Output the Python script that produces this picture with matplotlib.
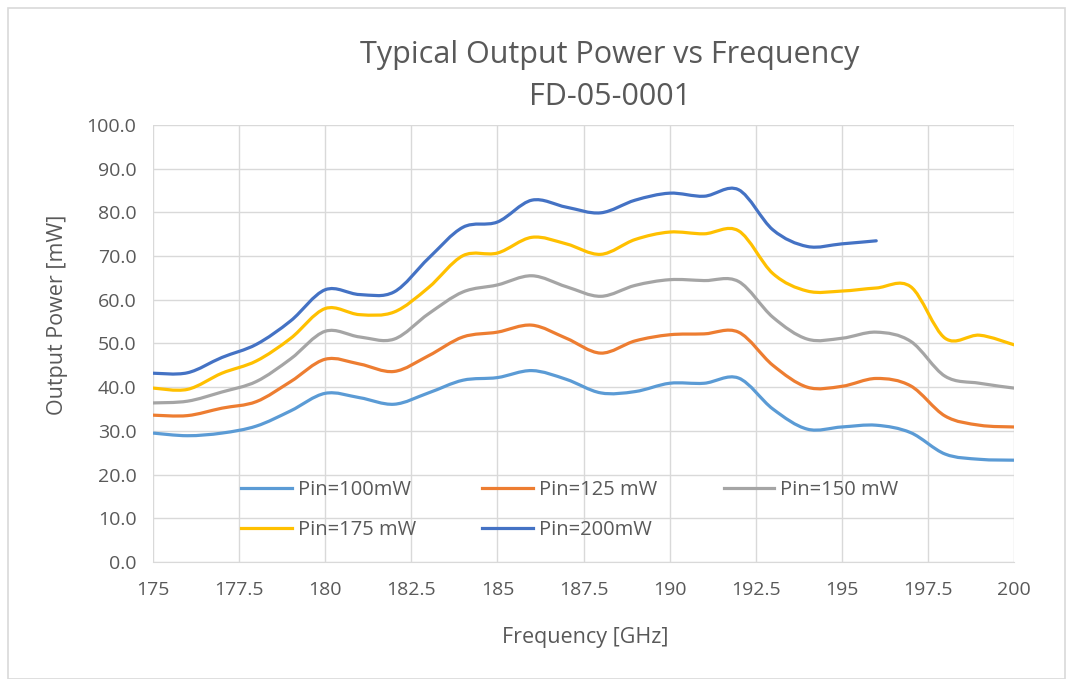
import matplotlib
matplotlib.use('Agg')

import numpy as np
import matplotlib.pyplot as plt
from matplotlib.path import Path
from matplotlib.patches import PathPatch, Rectangle
from matplotlib.lines import Line2D

# ─── Data ───
freq = [175, 176, 177, 178, 179, 180, 181, 182, 183, 184, 185, 186, 187,
        188, 189, 190, 191, 192, 193, 194, 195, 196, 197, 198, 199, 200]

pin_100 = [29.5, 28.9, 29.5, 31.1, 34.6, 38.6, 37.6, 36.1, 38.7, 41.6, 42.2, 43.8, 41.8,
           38.7, 39.0, 40.9, 40.9, 42.1, 35.0, 30.4, 30.9, 31.3, 29.6, 24.7, 23.5, 23.3]
pin_125 = [33.6, 33.5, 35.2, 36.7, 41.3, 46.4, 45.3, 43.6, 47.2, 51.5, 52.6, 54.2, 51.2,
           47.8, 50.6, 52.0, 52.2, 52.6, 45.0, 40.0, 40.2, 42.0, 40.3, 33.4, 31.3, 30.9]
pin_150 = [36.4, 36.8, 38.9, 41.3, 46.5, 52.8, 51.5, 51.0, 56.8, 61.8, 63.4, 65.5, 63.0,
           60.8, 63.3, 64.6, 64.4, 64.2, 56.0, 51.0, 51.2, 52.6, 50.5, 42.5, 40.9, 39.8]
pin_175 = [39.8, 39.5, 43.2, 46.0, 51.2, 58.0, 56.6, 57.2, 62.8, 70.1, 70.7, 74.3, 72.8,
           70.4, 73.8, 75.5, 75.1, 75.8, 66.0, 62.0, 62.0, 62.7, 63.0, 51.2, 51.9, 49.7]
pin_200 = [43.2, 43.3, 46.8, 49.8, 55.2, 62.3, 61.2, 61.8, 69.5, 76.6, 77.8, 82.8, 81.2,
           79.9, 82.8, 84.4, 83.7, 85.2, 76.0, 72.2, 72.8, 73.5]

series = [
    ('Pin=100mW', pin_100, '#5B9BD5'),
    ('Pin=125 mW', pin_125, '#ED7D31'),
    ('Pin=150 mW', pin_150, '#A5A5A5'),
    ('Pin=175 mW', pin_175, '#FFC000'),
    ('Pin=200mW', pin_200, '#4472C4'),
]

x_ticks = [175, 177.5, 180, 182.5, 185, 187.5, 190, 192.5, 195, 197.5, 200]
x_tick_labels = ['175', '177.5', '180', '182.5', '185', '187.5', '190', '192.5', '195', '197.5', '200']
y_ticks = [0, 10, 20, 30, 40, 50, 60, 70, 80, 90, 100]

TXT = '#595959'
plt.rcParams['font.family'] = ['Open Sans', 'DejaVu Sans']


def smooth_path(xs, ys):
    # Excel-style smoothed line: cubic Bezier segments (Catmull-Rom tangents)
    pts = np.column_stack([xs, ys]).astype(float)
    n = len(pts)
    verts = [pts[0]]
    codes = [Path.MOVETO]
    for i in range(n - 1):
        p0 = pts[i - 1] if i > 0 else pts[i]
        p1, p2 = pts[i], pts[i + 1]
        p3 = pts[i + 2] if i + 2 < n else pts[i + 1]
        c1 = p1 + (p2 - p0) / 6.0
        c2 = p2 - (p3 - p1) / 6.0
        verts += [c1, c2, p2]
        codes += [Path.CURVE4] * 3
    return Path(verts, codes)


W, H = 1066, 679
fig = plt.figure(figsize=(W / 100, H / 100), dpi=100)
ax = fig.add_axes([153 / W, 1 - 562 / H, 861 / W, 437 / H])

handles = []
for label, vals, color in series:
    xs = freq[:len(vals)]
    patch = PathPatch(smooth_path(xs, vals), facecolor='none', edgecolor=color,
                      linewidth=2.3, capstyle='round', joinstyle='round', zorder=3)
    ax.add_patch(patch)
    handles.append(Line2D([], [], color=color, linewidth=2.3, label=label))

ax.set_xlim(175, 200)
ax.set_ylim(0, 100)
ax.set_xticks(x_ticks)
ax.set_xticklabels(x_tick_labels)
ax.set_yticks(y_ticks)
ax.set_yticklabels([f'{v:.1f}' for v in y_ticks])
ax.tick_params(axis='both', length=0, labelsize=14, colors=TXT)
ax.tick_params(axis='x', pad=14)
ax.tick_params(axis='y', pad=12)
ax.grid(True, color='#D9D9D9', linewidth=1.0)
ax.set_axisbelow(True)
for side in ['top', 'right', 'left']:
    ax.spines[side].set_visible(False)
ax.spines['bottom'].set_color('#D9D9D9')

fig.text(585 / W, 1 - 637 / H, 'Frequency [GHz]', ha='center', va='center',
         fontsize=15.5, color=TXT)
fig.text(58 / W, 1 - 315 / H, 'Output Power [mW]', ha='center', va='center',
         rotation=90, fontsize=15.5, color=TXT)

fig.text(0.572, 1 - 55 / H, 'Typical Output Power vs Frequency', ha='center', va='center',
         fontsize=22, color=TXT)
fig.text(0.572, 1 - 97 / H, 'FD-05-0001', ha='center', va='center',
         fontsize=22, color=TXT)

# row-major order for 3 columns
order = [0, 3, 1, 4, 2]
leg = ax.legend([handles[i] for i in order], [handles[i].get_label() for i in order],
                ncol=3, loc='center', bbox_to_anchor=(0.484, 0.119), frameon=False,
                fontsize=14.5, handlelength=2.5, handletextpad=0.3,
                columnspacing=3.3, labelspacing=0.95)
for t in leg.get_texts():
    t.set_color(TXT)

# chart border
fig.patches.append(Rectangle((8 / W, 0), 1 - 8 / W - 0.001, 1 - 8 / H,
                             transform=fig.transFigure, fill=False,
                             edgecolor='#D9D9D9', linewidth=1.2))

fig.savefig('out.png', dpi=100)
